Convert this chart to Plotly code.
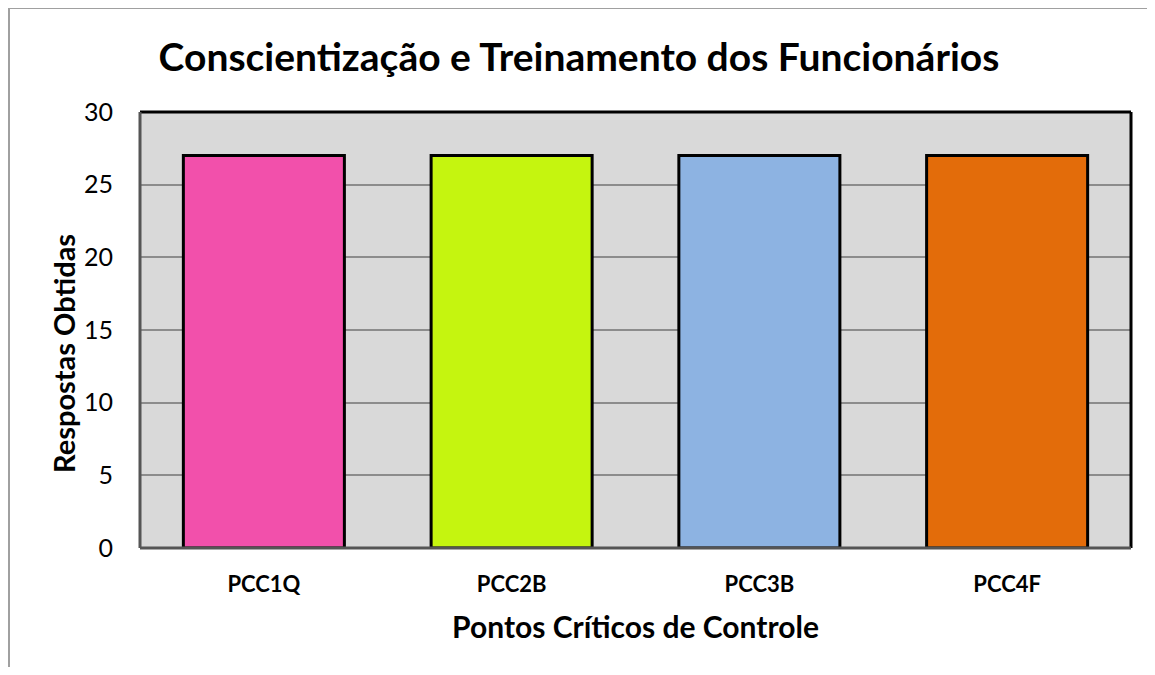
import plotly.graph_objects as go

categories = ["PCC1Q", "PCC2B", "PCC3B", "PCC4F"]
values = [27, 27, 27, 27]
colors = ["#F250AB", "#C5F50F", "#8DB3E2", "#E36C0A"]
y_ticks = [0, 5, 10, 15, 20, 25, 30]

FONT = "Lato, Calibri, 'Open Sans', sans-serif"

# page is offset by the 8px body margin
W, H = 1139, 659
L, T = 132, 104
R = W - (1131 - 8)
B = H - (548 - 8)
PW = W - L - R
PH = H - T - B

fig = go.Figure()
fig.add_trace(go.Bar(
    x=categories, y=values,
    marker=dict(color=colors, line=dict(color="black", width=3)),
    width=0.65,
))

fig.update_layout(
    width=W, height=H,
    margin=dict(l=L, r=R, t=T, b=B),
    paper_bgcolor="white",
    plot_bgcolor="#D9D9D9",
    showlegend=False,
    font=dict(family=FONT, color="black"),
    title=dict(
        text="<b>Conscientização e Treinamento dos Funcionários</b>",
        x=(579 - 8) / W, xanchor="center", y=1 - 49 / H, yanchor="middle",
        font=dict(size=39, family=FONT, color="black"),
    ),
    xaxis=dict(
        showgrid=False, ticks="", showline=False,
        tickfont=dict(size=22, family=FONT, color="black"),
        ticklabelstandoff=21,
        tickprefix="<b>", ticksuffix="</b>",
        title=dict(text="<b>Pontos Críticos de Controle</b>",
                   font=dict(size=30, family=FONT, color="black"), standoff=20),
    ),
    yaxis=dict(
        range=[0, 30], tickvals=y_ticks,
        showgrid=True, gridcolor="#8C8C8C", gridwidth=1.5,
        zeroline=False, showline=False, ticks="",
        tickfont=dict(size=25, family=FONT, color="black"),
        ticklabelstandoff=26,
    ),
)

# y-axis title (placed lower than plot centre, as in the original)
fig.add_annotation(
    text="<b>Respostas Obtidas</b>", textangle=-90,
    xref="paper", yref="paper",
    x=(63 - 8 - L) / PW, y=(PH - (354 - 8 - T)) / PH,
    xanchor="center", yanchor="middle", showarrow=False,
    font=dict(size=29, family=FONT, color="black"),
)

# plot area border: black top/right, gray bottom/left
fig.add_shape(type="line", xref="paper", yref="paper", x0=0, x1=1, y0=1, y1=1,
              line=dict(color="black", width=3))
fig.add_shape(type="line", xref="paper", yref="paper", x0=1, x1=1, y0=0, y1=1,
              line=dict(color="black", width=3))
fig.add_shape(type="line", xref="paper", yref="paper", x0=0, x1=1, y0=0, y1=0,
              line=dict(color="#555555", width=3))
fig.add_shape(type="line", xref="paper", yref="paper", x0=0, x1=0, y0=0, y1=1,
              line=dict(color="#555555", width=3))

# outer chart border (only left and top edges are visible)
bx0 = (1 - L) / PW
bx1 = (W + 40 - L) / PW
by_top = (T + PH - 0) / PH
by_bot = (T + PH - (H + 40)) / PH
fig.add_shape(type="line", xref="paper", yref="paper", x0=bx0, x1=bx1, y0=by_top, y1=by_top,
              line=dict(color="#A0A0A0", width=2), layer="below")
fig.add_shape(type="line", xref="paper", yref="paper", x0=bx0, x1=bx0, y0=by_bot, y1=by_top,
              line=dict(color="#A0A0A0", width=2), layer="below")

fig.write_html("out.html")
